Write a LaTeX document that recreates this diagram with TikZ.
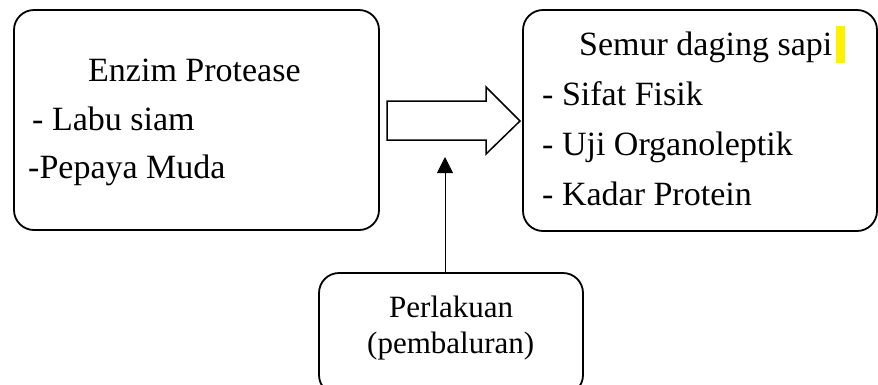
\documentclass[tikz,border=0pt]{standalone}
\usepackage{fontspec}
\setmainfont{Liberation Serif}
\usetikzlibrary{arrows.meta}
\begin{document}
\begin{tikzpicture}[x=1pt,y=-1pt,
  box/.style={draw=black,line width=1.8pt,rounded corners=20pt,rectangle,inner sep=0pt},
  txt/.style={anchor=base west,inner sep=0pt,font=\fontsize{34}{40}\selectfont},
  txts/.style={anchor=base west,inner sep=0pt,font=\fontsize{31}{36}\selectfont}]
\clip (0,0) rectangle (878,384);
\useasboundingbox (0,0) rectangle (878,384);
% boxes
\node[box,minimum width=365pt,minimum height=220pt] (L) at (196.5,120) {};
\node[box,minimum width=354pt,minimum height=221pt] (R) at (700,120.5) {};
\node[box,minimum width=264pt,minimum height=122pt] (B) at (451,334) {};
% highlight
\fill[yellow] (836,26) rectangle (845,63);
% left text
\node[txt] (l1) at (88,81) {Enzim Protease};
\node[txt] (l2) at (32,130) {- Labu siam};
\node[txt] (l3) at (28,178) {-Pepaya Muda};
% right text
\node[txt] (r1) at (579,55) {Semur daging sapi};
\node[txt] (r2) at (542,105) {- Sifat Fisik};
\node[txt] (r3) at (542,155) {- Uji Organoleptik};
\node[txt] (r4) at (542,205) {- Kadar Protein};
% bottom text
\node[txts] (b1) at (389,317) {Perlakuan};
\node[txts] (b2) at (367,353) {(pembaluran)};
% block arrow
\draw[line width=1.5pt,line join=miter] (387,101) -- (486,101) -- (486,87) -- (520,121) -- (486,154) -- (486,140) -- (387,140) -- cycle;
% thin arrow
\coordinate (t) at (445,157);
\draw[line width=1pt,-{Triangle[length=16pt,width=16pt]}] (B.north -| t) -- (t);
\end{tikzpicture}
\end{document}
